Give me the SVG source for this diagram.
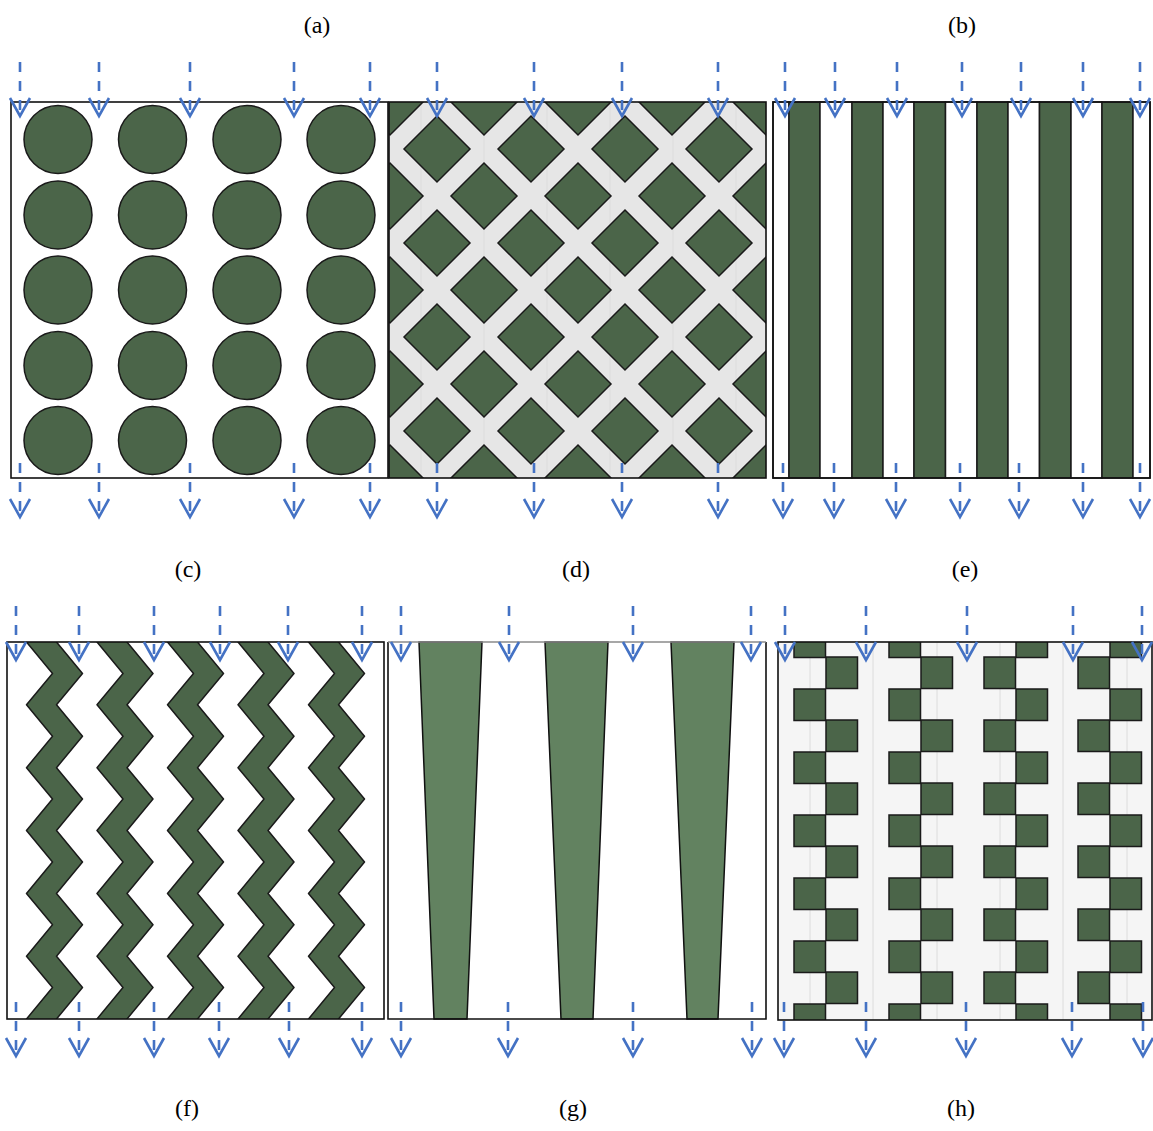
<svg xmlns="http://www.w3.org/2000/svg" xmlns:xlink="http://www.w3.org/1999/xlink" width="1153" height="1131" viewBox="0 0 1153 1131">
<style>
.lbl{font-family:"Liberation Serif","Times New Roman",serif;font-size:24px;fill:#000;text-anchor:middle}
.g{fill:#4b6549;stroke:#1a1a1a;stroke-width:1.5}
.g2{fill:#628260;stroke:#111;stroke-width:1.5}
.w{fill:#fff;stroke:#1a1a1a;stroke-width:1.5}
.frame{fill:none;stroke:#111;stroke-width:1.6}
.faint{stroke:#dcdcdc;stroke-width:1}
.ad{stroke:#4472c4;stroke-width:2.6;stroke-dasharray:10 9;fill:none}
.ah{stroke:#4472c4;stroke-width:2.6;fill:none;stroke-linejoin:miter}
</style>
<defs>
<clipPath id="cb"><rect x="389" y="102" width="377" height="376"/></clipPath>
<clipPath id="cf"><rect x="7" y="642" width="377" height="377"/></clipPath>
<clipPath id="ch"><rect x="778" y="642" width="374" height="378"/></clipPath>
<path id="dia" d="M0,-33 L33,0 L0,33 L-33,0 Z" class="g"/>
<polygon id="zz" class="g" stroke-linejoin="round" points="26,610.6 0,642 26,673.4 0,704.8 26,736.3 0,767.7 26,799.1 0,830.5 26,861.9 0,893.4 26,924.8 0,956.2 26,987.6 0,1019 26,1050.5 56,1050.5 30,1019 56,987.6 30,956.2 56,924.8 30,893.4 56,861.9 30,830.5 56,799.1 30,767.7 56,736.3 30,704.8 56,673.4 30,642 56,610.6"/>
<rect id="blk" width="31.5" height="31.5" class="g"/>
<g id="ar">
<line x1="0" y1="0" x2="0" y2="52" class="ad"/>
<polyline points="-10,36 0,54 10,36" class="ah"/>
</g>
</defs>
<rect width="1153" height="1131" fill="#fff"/>

<g id="labels">
<text class="lbl" x="317" y="33">(a)</text>
<text class="lbl" x="962" y="33">(b)</text>
<text class="lbl" x="188" y="577">(c)</text>
<text class="lbl" x="576" y="577">(d)</text>
<text class="lbl" x="965" y="577">(e)</text>
<text class="lbl" x="187" y="1116">(f)</text>
<text class="lbl" x="573" y="1116">(g)</text>
<text class="lbl" x="961" y="1116">(h)</text>
</g>

<g id="panel-circles">
<rect x="11" y="102" width="377" height="376" fill="#fff"/>
<g class="g">
<circle cx="58" cy="139.5" r="34"/><circle cx="152.5" cy="139.5" r="34"/><circle cx="247" cy="139.5" r="34"/><circle cx="341" cy="139.5" r="34"/>
<circle cx="58" cy="215" r="34"/><circle cx="152.5" cy="215" r="34"/><circle cx="247" cy="215" r="34"/><circle cx="341" cy="215" r="34"/>
<circle cx="58" cy="290" r="34"/><circle cx="152.5" cy="290" r="34"/><circle cx="247" cy="290" r="34"/><circle cx="341" cy="290" r="34"/>
<circle cx="58" cy="365.5" r="34"/><circle cx="152.5" cy="365.5" r="34"/><circle cx="247" cy="365.5" r="34"/><circle cx="341" cy="365.5" r="34"/>
<circle cx="58" cy="440.5" r="34"/><circle cx="152.5" cy="440.5" r="34"/><circle cx="247" cy="440.5" r="34"/><circle cx="341" cy="440.5" r="34"/>
</g>
<rect x="11" y="102" width="377" height="376" class="frame"/>
</g>

<g id="panel-lattice">
<g clip-path="url(#cb)">
<rect x="389" y="102" width="377" height="376" fill="#e6e6e6"/>
<g class="faint"><line x1="421" y1="102" x2="421" y2="478"/><line x1="484" y1="102" x2="484" y2="478"/><line x1="547" y1="102" x2="547" y2="478"/><line x1="610" y1="102" x2="610" y2="478"/><line x1="673" y1="102" x2="673" y2="478"/><line x1="736" y1="102" x2="736" y2="478"/></g>
<use href="#dia" x="390" y="102"/><use href="#dia" x="484" y="102"/><use href="#dia" x="578" y="102"/><use href="#dia" x="672" y="102"/><use href="#dia" x="766" y="102"/>
<use href="#dia" x="437" y="149"/><use href="#dia" x="531" y="149"/><use href="#dia" x="625" y="149"/><use href="#dia" x="719" y="149"/>
<use href="#dia" x="390" y="196"/><use href="#dia" x="484" y="196"/><use href="#dia" x="578" y="196"/><use href="#dia" x="672" y="196"/><use href="#dia" x="766" y="196"/>
<use href="#dia" x="437" y="243"/><use href="#dia" x="531" y="243"/><use href="#dia" x="625" y="243"/><use href="#dia" x="719" y="243"/>
<use href="#dia" x="390" y="290"/><use href="#dia" x="484" y="290"/><use href="#dia" x="578" y="290"/><use href="#dia" x="672" y="290"/><use href="#dia" x="766" y="290"/>
<use href="#dia" x="437" y="337"/><use href="#dia" x="531" y="337"/><use href="#dia" x="625" y="337"/><use href="#dia" x="719" y="337"/>
<use href="#dia" x="390" y="384"/><use href="#dia" x="484" y="384"/><use href="#dia" x="578" y="384"/><use href="#dia" x="672" y="384"/><use href="#dia" x="766" y="384"/>
<use href="#dia" x="437" y="431"/><use href="#dia" x="531" y="431"/><use href="#dia" x="625" y="431"/><use href="#dia" x="719" y="431"/>
<use href="#dia" x="390" y="478"/><use href="#dia" x="484" y="478"/><use href="#dia" x="578" y="478"/><use href="#dia" x="672" y="478"/><use href="#dia" x="766" y="478"/>
</g>
<rect x="389" y="102" width="377" height="376" class="frame"/>
</g>

<g id="panel-stripes">
<rect x="773" y="102" width="16" height="376" class="w"/>
<rect x="789" y="102" width="31" height="376" class="g"/>
<rect x="820" y="102" width="32" height="376" class="w"/>
<rect x="852" y="102" width="31" height="376" class="g"/>
<rect x="883" y="102" width="31" height="376" class="w"/>
<rect x="914" y="102" width="31.5" height="376" class="g"/>
<rect x="945.5" y="102" width="31.5" height="376" class="w"/>
<rect x="977" y="102" width="31" height="376" class="g"/>
<rect x="1008" y="102" width="31.5" height="376" class="w"/>
<rect x="1039.5" y="102" width="31.5" height="376" class="g"/>
<rect x="1071" y="102" width="31" height="376" class="w"/>
<rect x="1102" y="102" width="31" height="376" class="g"/>
<rect x="1133" y="102" width="17" height="376" class="w"/>
<rect x="773" y="102" width="377" height="376" class="frame"/>
</g>

<g id="panel-zigzag">
<rect x="7" y="642" width="377" height="377" fill="#fff"/>
<g clip-path="url(#cf)">
<use href="#zz" x="26.5"/><use href="#zz" x="97"/><use href="#zz" x="167.5"/><use href="#zz" x="238"/><use href="#zz" x="308.5"/>
</g>
<rect x="7" y="642" width="377" height="377" class="frame"/>
</g>

<g id="panel-tapered">
<rect x="388" y="642" width="378" height="377" fill="#fff"/>
<polygon class="g2" points="419,642 482,642 467,1019 434,1019"/>
<polygon class="g2" points="545,642 608,642 593,1019 561,1019"/>
<polygon class="g2" points="671,642 734,642 718,1019 687,1019"/>
<path d="M388,642 V1019 H766 V642" class="frame"/>
<line x1="388" y1="642" x2="766" y2="642" stroke="#8a8a8a" stroke-width="1.4"/>
</g>

<g id="panel-blocks">
<rect x="778" y="642" width="374" height="378" fill="#f5f5f5"/>
<g class="faint"><line x1="810" y1="642" x2="810" y2="1020"/><line x1="873" y1="642" x2="873" y2="1020"/><line x1="937" y1="642" x2="937" y2="1020"/><line x1="1000" y1="642" x2="1000" y2="1020"/><line x1="1063" y1="642" x2="1063" y2="1020"/><line x1="1127" y1="642" x2="1127" y2="1020"/></g>
<g clip-path="url(#ch)">
<use href="#blk" x="794" y="626"/><use href="#blk" x="794" y="689"/><use href="#blk" x="794" y="752"/><use href="#blk" x="794" y="815"/><use href="#blk" x="794" y="878"/><use href="#blk" x="794" y="941"/><use href="#blk" x="794" y="1004"/>
<use href="#blk" x="826" y="657"/><use href="#blk" x="826" y="720"/><use href="#blk" x="826" y="783"/><use href="#blk" x="826" y="846"/><use href="#blk" x="826" y="909"/><use href="#blk" x="826" y="972"/>
<use href="#blk" x="889" y="626"/><use href="#blk" x="889" y="689"/><use href="#blk" x="889" y="752"/><use href="#blk" x="889" y="815"/><use href="#blk" x="889" y="878"/><use href="#blk" x="889" y="941"/><use href="#blk" x="889" y="1004"/>
<use href="#blk" x="921" y="657"/><use href="#blk" x="921" y="720"/><use href="#blk" x="921" y="783"/><use href="#blk" x="921" y="846"/><use href="#blk" x="921" y="909"/><use href="#blk" x="921" y="972"/>
<use href="#blk" x="1016" y="626"/><use href="#blk" x="1016" y="689"/><use href="#blk" x="1016" y="752"/><use href="#blk" x="1016" y="815"/><use href="#blk" x="1016" y="878"/><use href="#blk" x="1016" y="941"/><use href="#blk" x="1016" y="1004"/>
<use href="#blk" x="984" y="657"/><use href="#blk" x="984" y="720"/><use href="#blk" x="984" y="783"/><use href="#blk" x="984" y="846"/><use href="#blk" x="984" y="909"/><use href="#blk" x="984" y="972"/>
<use href="#blk" x="1110" y="626"/><use href="#blk" x="1110" y="689"/><use href="#blk" x="1110" y="752"/><use href="#blk" x="1110" y="815"/><use href="#blk" x="1110" y="878"/><use href="#blk" x="1110" y="941"/><use href="#blk" x="1110" y="1004"/>
<use href="#blk" x="1078" y="657"/><use href="#blk" x="1078" y="720"/><use href="#blk" x="1078" y="783"/><use href="#blk" x="1078" y="846"/><use href="#blk" x="1078" y="909"/><use href="#blk" x="1078" y="972"/>
</g>
<rect x="778" y="642" width="374" height="378" class="frame"/>
</g>

<g id="connectors">
<use href="#ar" x="20" y="62"/><use href="#ar" x="99" y="62"/><use href="#ar" x="190" y="62"/><use href="#ar" x="294" y="62"/><use href="#ar" x="370" y="62"/>
<use href="#ar" x="20" y="463"/><use href="#ar" x="99" y="463"/><use href="#ar" x="190" y="463"/><use href="#ar" x="294" y="463"/><use href="#ar" x="370" y="463"/>
<use href="#ar" x="437" y="62"/><use href="#ar" x="534" y="62"/><use href="#ar" x="622" y="62"/><use href="#ar" x="718" y="62"/>
<use href="#ar" x="437" y="463"/><use href="#ar" x="534" y="463"/><use href="#ar" x="622" y="463"/><use href="#ar" x="718" y="463"/>
<use href="#ar" x="785" y="62"/><use href="#ar" x="835" y="62"/><use href="#ar" x="897" y="62"/><use href="#ar" x="962" y="62"/><use href="#ar" x="1021" y="62"/><use href="#ar" x="1083" y="62"/><use href="#ar" x="1140" y="62"/>
<use href="#ar" x="783" y="463"/><use href="#ar" x="834" y="463"/><use href="#ar" x="896" y="463"/><use href="#ar" x="960" y="463"/><use href="#ar" x="1019" y="463"/><use href="#ar" x="1083" y="463"/><use href="#ar" x="1140" y="463"/>
<use href="#ar" x="16" y="606"/><use href="#ar" x="79" y="606"/><use href="#ar" x="154" y="606"/><use href="#ar" x="220" y="606"/><use href="#ar" x="288" y="606"/><use href="#ar" x="362" y="606"/>
<use href="#ar" x="16" y="1002"/><use href="#ar" x="79" y="1002"/><use href="#ar" x="154" y="1002"/><use href="#ar" x="219" y="1002"/><use href="#ar" x="289" y="1002"/><use href="#ar" x="362" y="1002"/>
<use href="#ar" x="401" y="606"/><use href="#ar" x="509" y="606"/><use href="#ar" x="633" y="606"/><use href="#ar" x="751" y="606"/>
<use href="#ar" x="401" y="1002"/><use href="#ar" x="508" y="1002"/><use href="#ar" x="633" y="1002"/><use href="#ar" x="752" y="1002"/>
<use href="#ar" x="785" y="606"/><use href="#ar" x="866" y="606"/><use href="#ar" x="967" y="606"/><use href="#ar" x="1073" y="606"/><use href="#ar" x="1142" y="606"/>
<use href="#ar" x="784" y="1002"/><use href="#ar" x="866" y="1002"/><use href="#ar" x="966" y="1002"/><use href="#ar" x="1072" y="1002"/><use href="#ar" x="1143" y="1002"/>
</g>
</svg>
